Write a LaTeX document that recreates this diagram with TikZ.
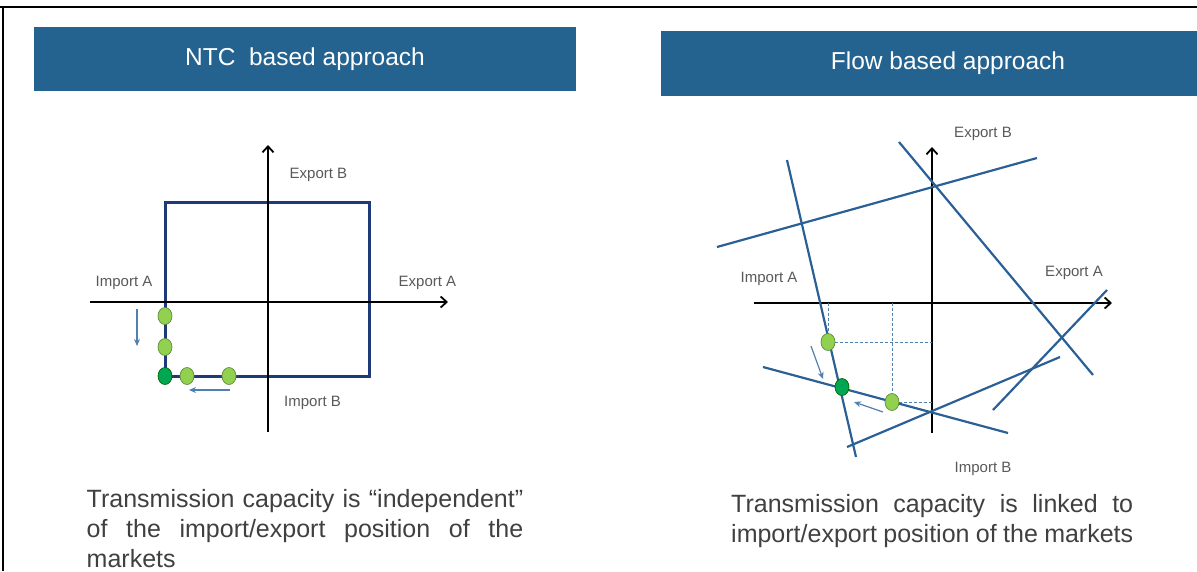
\documentclass[tikz,border=0pt]{standalone}
\usepackage{fontspec}
\setmainfont{Liberation Sans}
\usetikzlibrary{arrows.meta,shapes.geometric}
\definecolor{boxblue}{HTML}{24628F}
\definecolor{navy}{HTML}{1F3A78}
\definecolor{fbblue}{HTML}{2B6096}
\definecolor{arrblue}{HTML}{4F81B0}
\definecolor{lgreen}{HTML}{92D050}
\definecolor{dgreen}{HTML}{00A651}
\definecolor{ringgreen}{HTML}{5E8C3A}
\definecolor{txtgray}{HTML}{404040}
\definecolor{lblgray}{HTML}{595959}
\begin{document}
\begin{tikzpicture}[x=1pt,y=-1pt,
    title/.style={fill=boxblue,text=white,inner sep=0,font=\fontsize{24.5}{28}\selectfont},
    axis/.style={draw,line width=1.8pt,-{Straight Barb[length=6pt,width=11pt]}},
    lbl/.style={text=lblgray,inner sep=0,font=\fontsize{15}{18}\selectfont},
    dot/.style={ellipse,draw=ringgreen,fill=lgreen,line width=0.7pt,minimum width=14pt,minimum height=17pt,inner sep=0},
    best/.style={dot,fill=dgreen,draw=green!40!black},
    limit/.style={draw=fbblue,line width=2.2pt},
    move/.style={draw=arrblue,line width=1.2pt,-{Stealth[length=7pt,width=6pt]}},
    proj/.style={draw=arrblue,line width=1pt,dash pattern=on 3pt off 2pt},
    body/.style={text=txtgray,inner sep=0,anchor=base west,align=justify,font=\fontsize{25}{30}\selectfont}]
    \path[use as bounding box,clip] (0,0) rectangle (1197,571);
    \draw[line width=2pt] (0,6.5) -- (1197,6.5);
    \draw[line width=2pt] (3,6.5) -- (3,571);

    \node[title,minimum width=542pt,minimum height=64pt] (ntc) at (305,59) {NTC\ \ based approach};
    \node[title,minimum width=574pt,minimum height=65pt] (fb) at (948,63.5) {Flow based approach};

    \begin{scope}
        \coordinate (w1) at (90,302);
        \coordinate (e1) at (448,302);
        \coordinate (s1) at (268,432);
        \coordinate (n1) at (268,145);
        \draw[draw=navy,line width=3pt] (165,202) rectangle (369,376);
        \draw[axis] (w1) -- (e1);
        \draw[axis] (s1) -- (n1);
        \node[lbl] (eb1) at (318.5,175) {Export B};
        \node[lbl] (ea1) at (427.5,283) {Export A};
        \node[lbl] (ia1) at (124,283) {Import A};
        \node[lbl] (ib1) at (312.5,403) {Import B};
        \node[dot] (a1) at (165,316) {};
        \node[dot] (a2) at (165,347) {};
        \node[best] (a0) at (165,376) {};
        \node[dot] (b1) at (187,376) {};
        \node[dot] (b2) at (229,376) {};
        \coordinate (m1) at (137,309);
        \coordinate (m2) at (137,346);
        \coordinate (m3) at (230,390);
        \coordinate (m4) at (189,390);
        \draw[move] (m1) -- (m2);
        \draw[move] (m3) -- (m4);
    \end{scope}

    \begin{scope}
        \coordinate (w2) at (754,303);
        \coordinate (e2) at (1112,303);
        \coordinate (s2) at (932,433);
        \coordinate (n2) at (932,147);
        \draw[axis] (w2) -- (e2);
        \draw[axis] (s2) -- (n2);
        \foreach \p/\q in {{787,160}/{856,457}, {717,247}/{1037,158}, {899,142}/{1093,375},
                           {993,410}/{1107,290}, {847,447}/{1060,357}, {763,367}/{1008,433}}
            \draw[limit] (\p) -- (\q);
        \node[lbl] (eb2) at (983,134) {Export B};
        \node[lbl] (ea2) at (1074,273) {Export A};
        \node[lbl] (ia2) at (769,279) {Import A};
        \node[lbl] (ib2) at (983,469) {Import B};
        \node[dot] (c1) at (828,342) {};
        \node[best] (c0) at (842,387) {};
        \node[dot] (c2) at (892,402) {};
        \draw[proj] (c1.north |- w2) -- (c1.north);
        \draw[proj] (c1.east) -- (c1.east -| n2);
        \draw[proj] (c2.north |- w2) -- (c2.north);
        \draw[proj] (c2.east) -- (c2.east -| n2);
        \coordinate (m5) at (811,346);
        \coordinate (m6) at (823,379);
        \coordinate (m7) at (883,412);
        \coordinate (m8) at (854,402);
        \draw[move] (m5) -- (m6);
        \draw[move] (m7) -- (m8);
    \end{scope}

    \node[body,text width=436.5pt] (t1) at (86.5,507) {Transmission capacity is “independent”\linebreak of the import/export position of the\linebreak markets};
    \node[body,text width=402pt] (t2) at (731,512) {Transmission capacity is linked to\linebreak import/export position of the markets};
\end{tikzpicture}
\end{document}
